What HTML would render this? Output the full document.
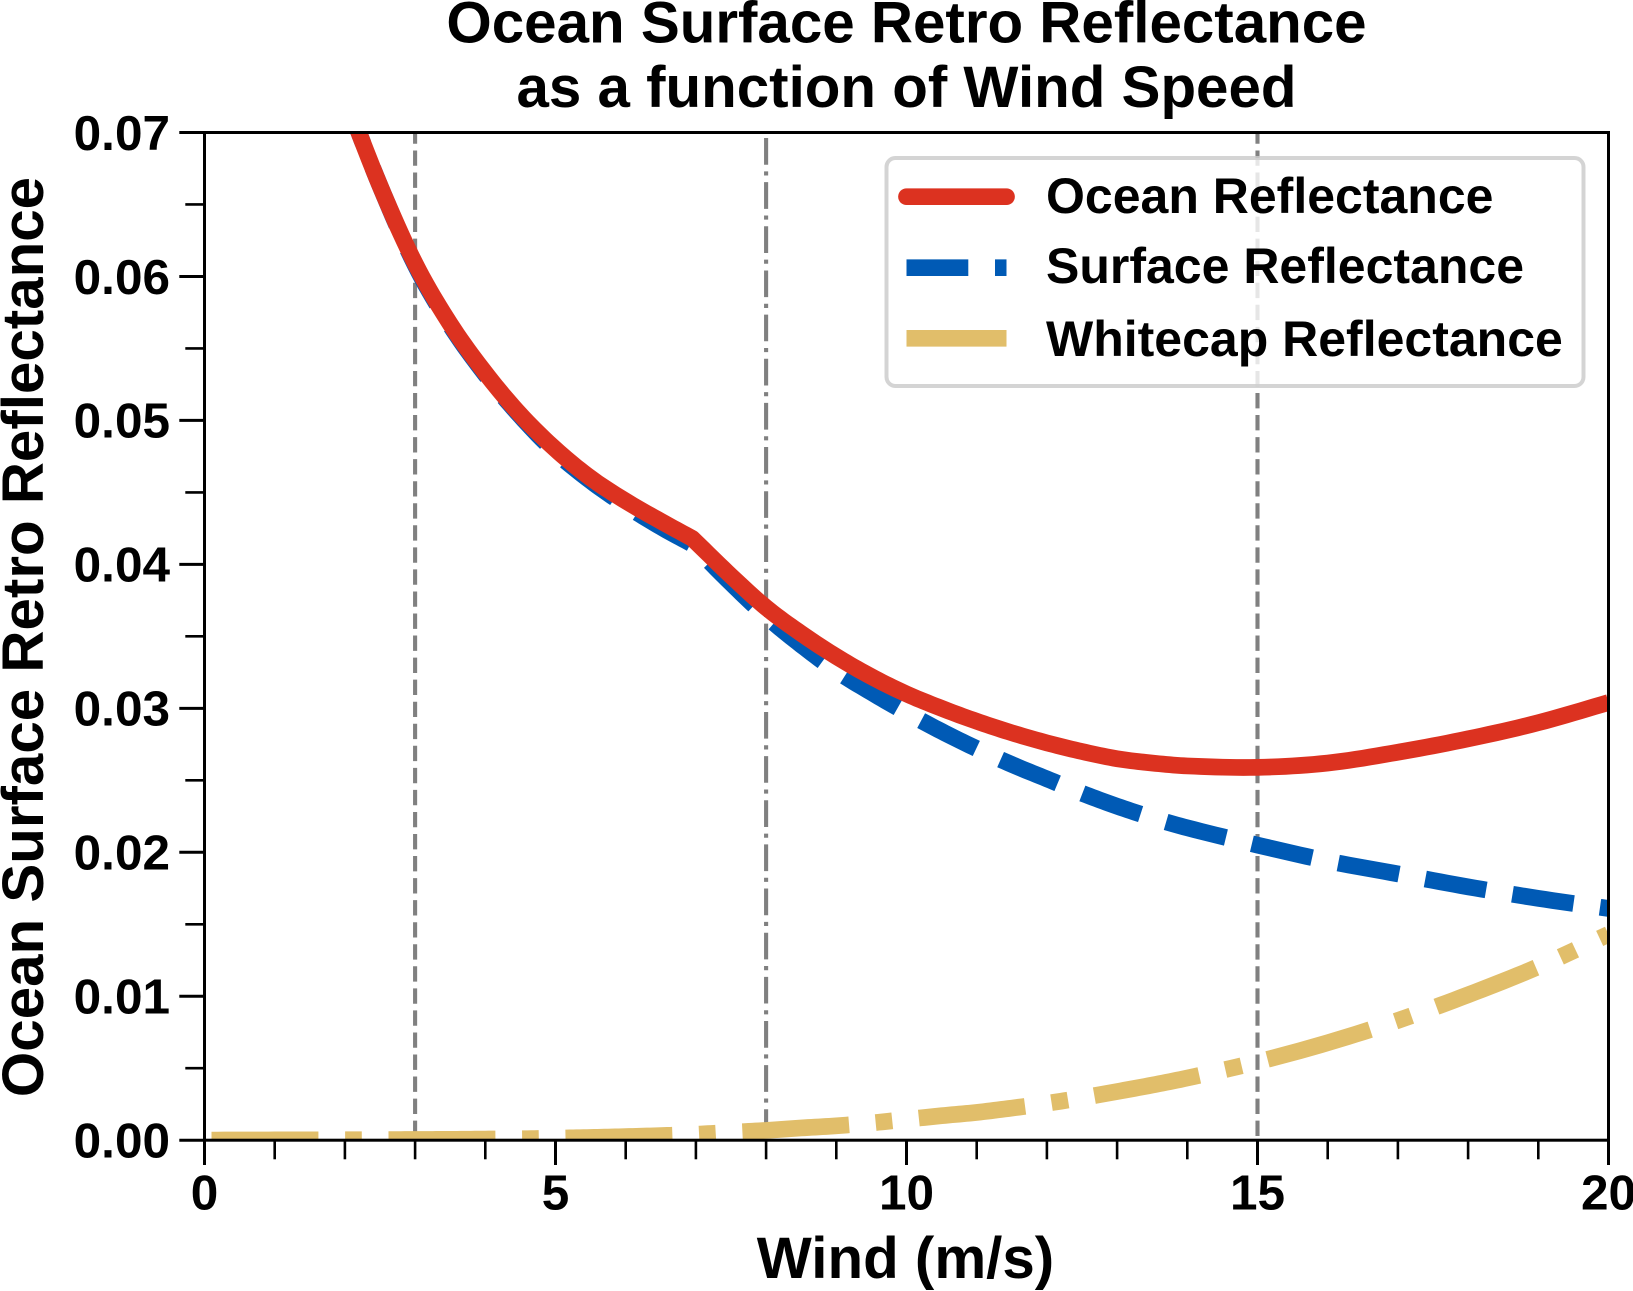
<!DOCTYPE html>
<html lang="en">
<head>
<meta charset="utf-8">
<title>Ocean Surface Retro Reflectance</title>
<style>
html,body{margin:0;padding:0;background:#fff;width:1633px;height:1291px;overflow:hidden}
svg{display:block;font-family:"Liberation Sans",Arial,sans-serif;font-weight:bold;fill:#000}
</style>
</head>
<body>
<svg id="chart" xmlns="http://www.w3.org/2000/svg" width="1633" height="1291" viewBox="0 0 1633 1291">
  <defs>
    <clipPath id="plot-clip"><rect x="204.5" y="132.5" width="1404" height="1007.5"/></clipPath>
  </defs>
  <rect x="0" y="0" width="1633" height="1291" fill="#fff"/>
  <text x="906.5" y="42.5" text-anchor="middle" font-size="58.3">Ocean Surface Retro Reflectance</text>
  <text x="906.5" y="107" text-anchor="middle" font-size="58.3">as a function of Wind Speed</text>
  <text transform="translate(43,637) rotate(-90)" text-anchor="middle" font-size="58.3">Ocean Surface Retro Reflectance</text>
  <text x="905.5" y="1278" text-anchor="middle" font-size="58.3">Wind (m/s)</text>
  <g id="reference-lines" clip-path="url(#plot-clip)"></g>
  <g id="series" clip-path="url(#plot-clip)"></g>
  <g id="axes"></g>
  <g>
    <rect x="886.5" y="158" width="697" height="228" rx="9" ry="9" fill="#fff" fill-opacity="0.8" stroke="#cccccc" stroke-opacity="0.85" stroke-width="4"/>
    <line x1="906.5" x2="1006.5" y1="196.7" y2="196.7" stroke="#DC3220" stroke-width="16.7" stroke-linecap="round"/>
    <line x1="906.5" x2="1006.5" y1="267.7" y2="267.7" stroke="#005AB5" stroke-width="16.7" stroke-dasharray="61.8 26.7"/>
    <line x1="906.5" x2="1006.5" y1="338.3" y2="338.3" stroke="#E1BE6A" stroke-width="16.7" stroke-dasharray="106.9 26.7 16.7 26.7"/>
    <text x="1046" y="213" font-size="50">Ocean Reflectance</text>
    <text x="1046" y="283" font-size="50">Surface Reflectance</text>
    <text x="1046" y="356" font-size="50">Whitecap Reflectance</text>
  </g>
</svg>
<script>
// Chart data
const windSpeed = [0.1,1,2,2.5,3,3.5,4,4.5,5,5.5,6,6.5,6.95,7.5,8,8.5,9,9.5,10,10.5,11,11.5,12,12.5,13,13.5,14,15,16,17,18,19,20];
const oceanReflectance = [null,null,0.0725,0.0663,0.0609,0.0567,0.0533,0.0504,0.0480,0.0460,0.0444,0.0430,0.0418,0.0392,0.0370,0.0352,0.0336,0.0322,0.0310,0.0300,0.0291,0.0283,0.0276,0.0270,0.0265,0.0262,0.0260,0.0259,0.0262,0.02695,0.02788,0.0290,0.0304];
const surfaceReflectance = [null,null,0.0725,0.0663,0.0608,0.0566,0.0532,0.0503,0.0478,0.0458,0.0441,0.0426,0.0414,0.0387,0.0364,0.0344,0.0326,0.0311,0.0297,0.0284,0.0272,0.0261,0.0251,0.0241,0.0232,0.0224,0.0217,0.0205,0.0194,0.0185,0.0176,0.0168,0.0161];
const whitecapReflectance = [0.00001,0.00002,0.00003,0.00004,0.00005,0.00006,0.00008,0.0001,0.00014,0.00019,0.00025,0.00032,0.0004,0.00055,0.00068,0.00085,0.00100,0.00120,0.00145,0.0017,0.00193,0.00223,0.00256,0.00295,0.00338,0.00383,0.00432,0.00544,0.00677,0.00832,0.0101,0.01205,0.0143];
const referenceWinds = [3,8,15];
const xMajorTicks = [0,5,10,15,20];
const xMinorTicks = [1,2,3,4,6,7,8,9,11,12,13,14,16,17,18,19];
const yMajorTicks = [0,0.01,0.02,0.03,0.04,0.05,0.06,0.07];
const yMinorTicks = [0.005,0.015,0.025,0.035,0.045,0.055,0.065];
const kinkWind = 6.95;

const NS = 'http://www.w3.org/2000/svg';
const left = 204.5, right = 1608.5, top_ = 132.5, bottom = 1140.2;
const xScale = w => left + (w / 20) * (right - left);
const yScale = v => bottom - (v / 0.07) * (bottom - top_);

function make(parent, tag, attrs) {
  const el = document.createElementNS(NS, tag);
  for (const k in attrs) el.setAttribute(k, attrs[k]);
  parent.appendChild(el);
  return el;
}
// Smooth the read values with a cubic Hermite curve, keeping the kink sharp.
function seriesPoints(values, useKink) {
  const xs = [], ys = [], kinked = [];
  values.forEach((v, i) => {
    if (v !== null) {
      xs.push(xScale(windSpeed[i]));
      ys.push(yScale(v));
      kinked.push(useKink && windSpeed[i] === kinkWind);
    }
  });
  const n = xs.length;
  const secant = i => (ys[i + 1] - ys[i]) / (xs[i + 1] - xs[i]);
  const tangentOut = i => {
    if (i === 0 || kinked[i]) return secant(i);
    return (ys[i + 1] - ys[i - 1]) / (xs[i + 1] - xs[i - 1]);
  };
  const tangentIn = i => {
    if (i === n - 1 || kinked[i]) return secant(i - 1);
    return (ys[i + 1] - ys[i - 1]) / (xs[i + 1] - xs[i - 1]);
  };
  const pts = [[xs[0], ys[0]]];
  for (let i = 0; i < n - 1; i++) {
    const h = xs[i + 1] - xs[i];
    const m0 = tangentOut(i), m1 = tangentIn(i + 1);
    for (let s = 1; s <= 10; s++) {
      const t = s / 10, t2 = t * t, t3 = t2 * t;
      const y = (2 * t3 - 3 * t2 + 1) * ys[i] + (t3 - 2 * t2 + t) * h * m0 + (-2 * t3 + 3 * t2) * ys[i + 1] + (t3 - t2) * h * m1;
      pts.push([xs[i] + h * t, y]);
    }
  }
  return pts;
}
function pathOf(pts) {
  return pts.map((p, i) => (i ? 'L' : 'M') + p[0].toFixed(2) + ' ' + p[1].toFixed(2)).join(' ');
}
function lengthToX(pts, x) {
  let len = 0;
  for (let i = 1; i < pts.length; i++) {
    const a = pts[i - 1], b = pts[i];
    const seg = Math.hypot(b[0] - a[0], b[1] - a[1]);
    if (x <= b[0]) return len + seg * (x - a[0]) / (b[0] - a[0]);
    len += seg;
  }
  return len;
}

// Reference lines
const refGroup = document.getElementById('reference-lines');
referenceWinds.forEach(w => {
  const styleDash = w === 8 ? '26.7 6.65 4.15 6.65' : '15.35 6.7';
  const ln = make(refGroup, 'line', {x1: xScale(w), x2: xScale(w), y1: 1136, y2: top_, stroke: '#808080', 'stroke-width': 4.1, 'stroke-dasharray': styleDash});
  
  
});

// Series
const seriesGroup = document.getElementById('series');
const whitecapPts = seriesPoints(whitecapReflectance, false);
const whitecapLine = make(seriesGroup, 'path', {d: pathOf(whitecapPts), fill: 'none', stroke: '#E1BE6A', 'stroke-width': 16.7, 'stroke-dasharray': '106.9 26.7 16.7 26.7'});



const surfacePts = seriesPoints(surfaceReflectance, true);
const surfaceAnchorWind = 14.92;
const surfacePeriod = 61.8 + 26.7;
const surfaceOffset = surfacePeriod - (lengthToX(surfacePts, xScale(surfaceAnchorWind)) % surfacePeriod);
const surfaceLine = make(seriesGroup, 'path', {d: pathOf(surfacePts), fill: 'none', stroke: '#005AB5', 'stroke-width': 16.7, 'stroke-dasharray': '61.8 26.7', 'stroke-dashoffset': surfaceOffset.toFixed(2)});



const oceanLine = make(seriesGroup, 'path', {d: pathOf(seriesPoints(oceanReflectance, true)), fill: 'none', stroke: '#DC3220', 'stroke-width': 16.7, 'stroke-linejoin': 'round'});



// Axes
const axes = document.getElementById('axes');
const frame = make(axes, 'rect', {x: left, y: top_, width: right - left, height: bottom - top_, fill: 'none', stroke: '#000', 'stroke-width': 3});



xMajorTicks.forEach(t => {
  const x = xScale(t);
  const tick = make(axes, 'line', {x1: x, x2: x, y1: bottom, y2: 1165, stroke: '#000', 'stroke-width': 3});
  
  
  const label = make(axes, 'text', {x: x, y: 1209.5, 'text-anchor': 'middle', 'font-size': 49.5});
  
  
  label.textContent = String(t);
});
xMinorTicks.forEach(t => {
  const x = xScale(t);
  const tick = make(axes, 'line', {x1: x, x2: x, y1: bottom, y2: 1159.3, stroke: '#000', 'stroke-width': 2.6});
  
  
});
yMajorTicks.forEach(t => {
  const y = yScale(t);
  const tick = make(axes, 'line', {x1: 179.3, x2: left, y1: y, y2: y, stroke: '#000', 'stroke-width': 3});
  
  
  const label = make(axes, 'text', {x: 170, y: y + 17.3, 'text-anchor': 'end', 'font-size': 49.5});
  
  
  label.textContent = t.toFixed(2);
});
yMinorTicks.forEach(t => {
  const y = yScale(t);
  const tick = make(axes, 'line', {x1: 185.3, x2: left, y1: y, y2: y, stroke: '#000', 'stroke-width': 2.6});
  
  
});
</script>
</body>
</html>
